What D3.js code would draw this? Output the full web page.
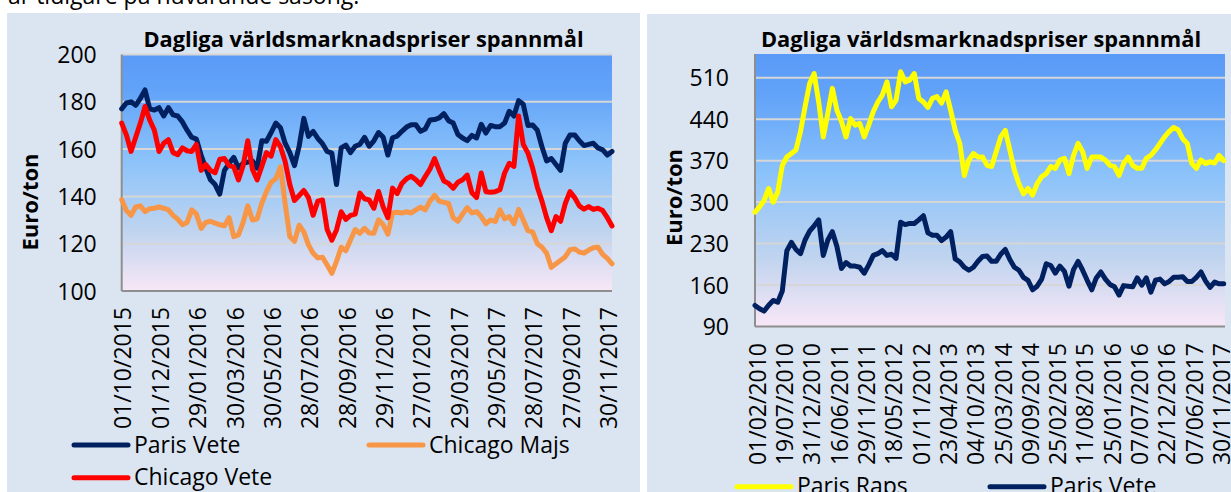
<!DOCTYPE html>
<html>
<head>
<meta charset="utf-8">
<script src="https://cdn.jsdelivr.net/npm/d3@7"></script>
<style>
body{margin:0;background:#ffffff;}
svg{display:block;font-family:"Open Sans",sans-serif;}
</style>
</head>
<body>
<div id="chart"></div>
<script>
//Data
var leftDates = ["01/10/2015","01/12/2015","29/01/2016","30/03/2016","30/05/2016","28/07/2016","28/09/2016",
    "29/11/2016","27/01/2017","29/03/2017","29/05/2017","28/07/2017","27/09/2017","30/11/2017"];
var leftTicks = [100, 120, 140, 160, 180, 200];

var parisVeteShort = [177,179.5,180,178.5,181.5,185,177,176.5,177.5,174,
    177.5,174.5,174,171.5,168,165,164.2,157.5,152,147,
    145,141,151,154,156.5,152,154,154.5,155,152,
    163.5,163.3,167,171,169,162.5,158.5,153,161.2,173,
    165.4,167.5,164.5,162.3,159,158.3,145,160.5,161.7,158.5,
    161.2,162,165,161.2,163.5,167,165,157.5,164.8,165.5,
    167.5,169.3,170.3,170.3,167.5,168.5,172.3,172.5,173.2,175,
    172,171,166.2,164.7,163.6,165.8,164.7,170.5,166.8,170,
    169.5,169.5,171,176,174,180.5,179,170,170.2,168,
    161,155,156,153.5,151,162.5,166,166,163.5,161.5,
    162,162.5,160.5,159.7,157.5,159];

var chicagoVete = [171,166,159,165,171,178,172.3,168,159,162.5,
    164,158.5,157.6,160.5,159.3,159,162,151,153.5,151,
    150,155.7,156,153,152.5,147,153,163.5,151.5,147,
    152.7,158.5,157,164,161,154.8,145,138.3,140.4,142.5,
    139.5,132,138,138.5,126,121.5,125.8,133.5,130.3,132,
    132.5,141.4,139,138.5,135,142.1,135.5,131,143.5,141.2,
    145.5,147.5,148.5,147,145,148.4,151.5,156,151,146.5,
    145.5,143.5,146,147,149,141.5,139.5,149.9,142,141.8,
    142,142.8,149.9,154,152.7,174,162,158.3,152,144,
    138,131,125.5,131.5,129.5,137,142,139.5,136,134.6,
    135.7,134.5,135,134,131,127.5];

var chicagoMajs = [138.6,134,132,135.5,136,133.6,134.8,135,135.5,135,
    134.3,132,130.4,128,129,134.3,132.5,126.5,129,129.5,
    128.7,128,127.6,131,123,123.7,129,136,130,130.5,
    137.1,142,146,147.5,152.5,137,123,121,127.8,125,
    119.5,116,114,114.3,111,107.5,112.5,118.5,117,121.6,
    126,124.4,126.5,124.5,124.4,130.1,128,124,133,133.3,
    133,133.5,133,134.3,135.5,134.3,138,140.5,138,137.5,
    137,131,129.5,132.5,135.3,133,133.6,131.5,128.5,130,
    129.4,134.3,130.5,131.5,128.5,134.5,130,125.5,125,120,
    118.5,116,110,111.5,113,114.5,117.5,117.8,116.5,116,
    117.3,118.3,118.5,115.5,113.8,111.5];

var rightDates = ["01/02/2010","19/07/2010","31/12/2010","16/06/2011","29/11/2011","18/05/2012","01/11/2012",
    "23/04/2013","04/10/2013","25/03/2014","09/09/2014","25/02/2015","11/08/2015","25/01/2016",
    "07/07/2016","22/12/2016","07/06/2017","30/11/2017"];
var rightTicks = [90, 160, 230, 300, 370, 440, 510];

var parisRaps = [283,292,303,323,300,317,362,376,382,388,
    419,461,500,517,469,410,450,492,455,436,
    410,441,430,433,410,430,453,469,481,503,
    461,472,520,503,506,517,475,469,460,475,
    478,467,486,455,421,399,345,371,382,376,
    376,362,360,385,410,421,388,354,331,314,
    323,312,331,343,348,360,357,371,374,348,
    379,399,385,357,376,376,376,371,362,360,
    345,365,376,362,357,357,374,379,388,399,
    410,419,426,422,407,399,365,357,371,365,
    368,366,379,370];

var parisVeteLong = [125.6,120,116,126,134,131,150,218,232,220,
    213,236,251,260,270,210,236,250,225,188,
    198,192,192,190,180,194,210,213,218,210,
    212,205,266,262,264,264,270,277,248,244,
    244,235,241,250,204,199,190,185,190,200,
    208,209,200,200,212,220,203,190,185,173,
    168,152,158,170,196,193,180,192,183,158,
    186,200,185,168,152,172,182,170,161,157,
    143,159,158,157,172,160,172,148,168,170,
    162,166,173,173,174,166,166,173,182,167,
    156,165,162,162];

var titleText = "Dagliga världsmarknadspriser spannmål";
var w = 1231;
var h = 492;

//Main svg
var svg = d3.select("#chart")
    .append("svg")
    .attr("width", w)
    .attr("height", h);

svg.append("rect").attr("width", w).attr("height", h).attr("fill", "#ffffff");

//Gradient used for the plot areas
var grad = svg.append("defs").append("linearGradient")
    .attr("id", "plotFill")
    .attr("x1", 0).attr("y1", 0).attr("x2", 0).attr("y2", 1);
grad.append("stop").attr("offset", "0%").attr("stop-color", "#5a9af8");
grad.append("stop").attr("offset", "15%").attr("stop-color", "#62a3f9");
grad.append("stop").attr("offset", "45%").attr("stop-color", "#8cc3fa");
grad.append("stop").attr("offset", "75%").attr("stop-color", "#c0d4ef");
grad.append("stop").attr("offset", "100%").attr("stop-color", "#f8e7f6");

//Cut off line of body text above the charts
svg.append("text")
    .attr("x", 8)
    .attr("y", 4)
    .attr("font-size", 23)
    .attr("fill", "#000")
    .text("är tidigare på nuvarande säsong.");

function drawPanel(opt){
    var g = svg.append("g");
    //light blue chart area
    g.append("rect")
        .attr("x", opt.panel[0]).attr("y", opt.panel[1])
        .attr("width", opt.panel[2]).attr("height", opt.panel[3])
        .attr("fill", "#dbe5f1");

    var x = d3.scaleLinear().domain([0, opt.count - 1]).range([opt.x0, opt.xEnd]);
    var y = d3.scaleLinear().domain(opt.yDomain).range([opt.y1, opt.y0]);

    //plot area with gradient
    g.append("rect")
        .attr("x", opt.x0).attr("y", opt.y0)
        .attr("width", opt.x1 - opt.x0).attr("height", opt.y1 - opt.y0)
        .attr("fill", "url(#plotFill)");

    //horizontal gridlines
    g.selectAll(".grid")
        .data(opt.ticks.slice(1))
        .enter()
        .append("line")
        .attr("x1", opt.x0).attr("x2", opt.x1)
        .attr("y1", function(d){ return y(d); })
        .attr("y2", function(d){ return y(d); })
        .attr("stroke", "#d6d6d6")
        .attr("stroke-width", 2);

    //axis lines
    g.append("line")
        .attr("x1", opt.x0).attr("x2", opt.x0)
        .attr("y1", opt.y0).attr("y2", opt.y1)
        .attr("stroke", "#8e8e8e").attr("stroke-width", 2);
    g.append("line")
        .attr("x1", opt.x0).attr("x2", opt.x1)
        .attr("y1", opt.y1).attr("y2", opt.y1)
        .attr("stroke", "#8e8e8e").attr("stroke-width", 2);

    //y axis labels
    var yAxis = g.append("g")
        .attr("transform", "translate(" + opt.x0 + ",0)")
        .call(d3.axisLeft(y).tickValues(opt.ticks).tickSize(0).tickPadding(opt.yPad));
    yAxis.select(".domain").remove();
    yAxis.selectAll("text")
        .attr("font-size", 23)
        .attr("font-family", "Open Sans")
        .attr("fill", "#000")
        .attr("dy", "0.35em");

    //x axis date labels, rotated
    var tickIdx = opt.labels.map(function(d, i){ return i * opt.step; });
    var xAxis = g.append("g")
        .attr("transform", "translate(0," + opt.y1 + ")")
        .call(d3.axisBottom(x).tickValues(tickIdx).tickSize(0)
            .tickFormat(function(d, i){ return opt.labels[i]; }));
    xAxis.select(".domain").remove();
    xAxis.selectAll("text")
        .attr("font-size", 23)
        .attr("font-family", "Open Sans")
        .attr("fill", "#000")
        .attr("text-anchor", "end")
        .attr("transform", "rotate(-90)")
        .attr("x", -opt.xPad)
        .attr("y", opt.xShift)
        .attr("dy", "0.36em");

    //series lines
    var line = d3.line()
        .x(function(d, i){ return x(i); })
        .y(function(d){ return y(d); });
    opt.series.forEach(function(s){
        g.append("path")
            .datum(s.values)
            .attr("d", line)
            .attr("fill", "none")
            .attr("stroke", s.color)
            .attr("stroke-width", 5)
            .attr("stroke-linejoin", "round")
            .attr("stroke-linecap", "round");
    });

    //title
    g.append("text")
        .attr("x", opt.titleX).attr("y", 47)
        .attr("text-anchor", "middle")
        .attr("font-weight", "bold")
        .attr("font-size", 21.8)
        .attr("fill", "#000")
        .text(titleText);

    //y axis title
    g.append("text")
        .attr("transform", "translate(" + opt.yTitle[0] + "," + opt.yTitle[1] + ") rotate(-90)")
        .attr("text-anchor", "middle")
        .attr("dy", "0.36em")
        .attr("font-weight", "bold")
        .attr("font-size", 22)
        .attr("fill", "#000")
        .text("Euro/ton");

    //legend
    opt.legend.forEach(function(l){
        var s = opt.series[l.s];
        g.append("line")
            .attr("x1", l.x).attr("x2", l.x + 54)
            .attr("y1", l.y).attr("y2", l.y)
            .attr("stroke", s.color)
            .attr("stroke-width", 5)
            .attr("stroke-linecap", "round");
        g.append("text")
            .attr("x", l.x + 60).attr("y", l.y + 7.5)
            .attr("font-size", 23)
            .attr("fill", "#000")
            .text(s.name);
    });
}

//Left chart 2015-2017
drawPanel({
    panel: [7, 13, 633, 479],
    x0: 121.7, x1: 612, xEnd: 612, y0: 54.5, y1: 291,
    count: parisVeteShort.length,
    yDomain: [100, 200], ticks: leftTicks, yPad: 25,
    labels: leftDates, step: 8, xPad: 16, xShift: 1,
    series: [
        {name: "Paris Vete", color: "#002060", values: parisVeteShort},
        {name: "Chicago Majs", color: "#f79646", values: chicagoMajs},
        {name: "Chicago Vete", color: "#ff0000", values: chicagoVete}
    ],
    titleX: 363.5, yTitle: [30, 202],
    legend: [{s: 0, x: 74, y: 445}, {s: 1, x: 369, y: 445}, {s: 2, x: 74, y: 477.7}]
});

//Right chart 2010-2017
drawPanel({
    panel: [647, 14, 584, 478],
    x0: 755, x1: 1225, xEnd: 1223.7, y0: 54, y1: 326.5,
    count: parisRaps.length,
    yDomain: [90, 550], ticks: rightTicks, yPad: 26,
    labels: rightDates, step: 6, xPad: 16.5, xShift: 2,
    series: [
        {name: "Paris Raps", color: "#ffff00", values: parisRaps},
        {name: "Paris Vete", color: "#002060", values: parisVeteLong}
    ],
    titleX: 981, yTitle: [674, 197.5],
    legend: [{s: 0, x: 737, y: 486.7}, {s: 1, x: 990, y: 486.7}]
});
</script>
</body>
</html>
